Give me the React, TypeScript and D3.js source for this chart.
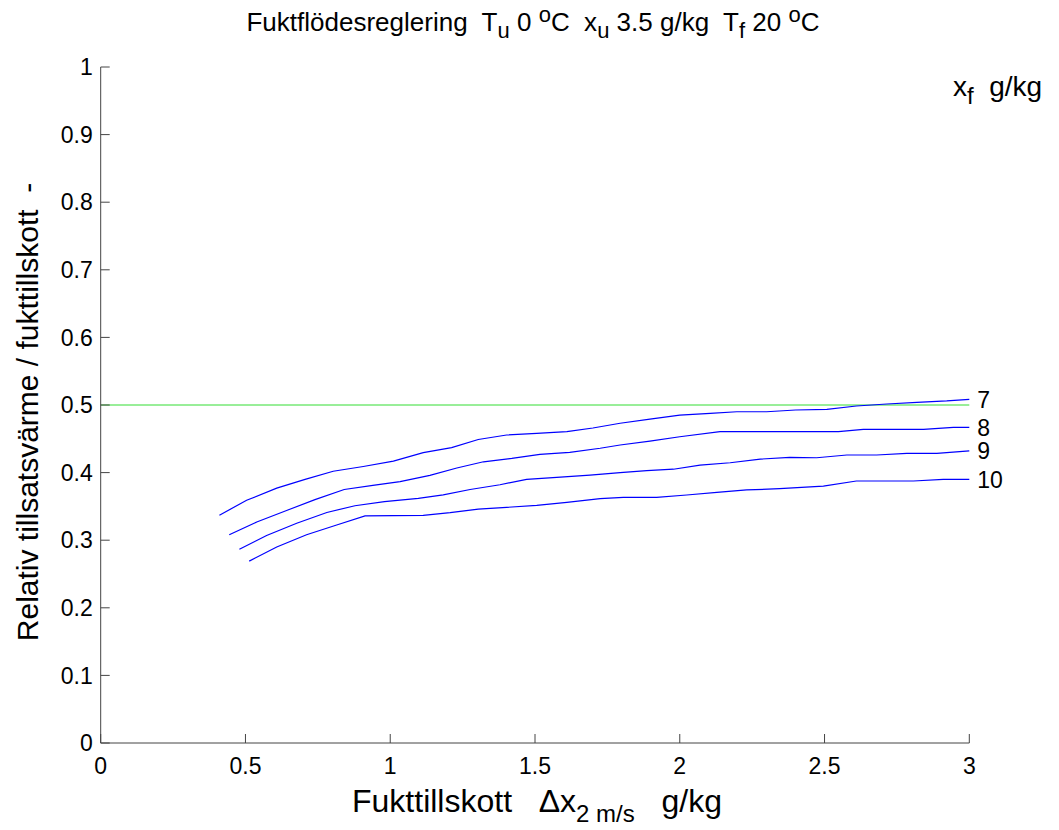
import React from 'react';
import * as d3 from 'd3';

// Curve labels (x_f g/kg)
const curveLabels = ['7', '8', '9', '10'];

// x_f = 7
const dx7 = [0.41, 0.504, 0.608, 0.706, 0.803, 0.907, 1.011, 1.114, 1.212, 1.304, 1.402, 1.506, 1.61, 1.70, 1.794, 1.897, 2.0, 2.105, 2.197, 2.30, 2.40, 2.508, 2.61, 2.715, 2.819, 2.922, 3.0];
const rel7 = [0.337, 0.359, 0.377, 0.390, 0.402, 0.409, 0.417, 0.4295, 0.437, 0.449, 0.4556, 0.458, 0.4605, 0.466, 0.473, 0.479, 0.485, 0.4877, 0.490, 0.490, 0.4926, 0.4936, 0.4985, 0.5015, 0.504, 0.506, 0.5084];

// x_f = 8
const dx8 = [0.444, 0.539, 0.642, 0.74, 0.841, 0.94, 1.034, 1.137, 1.23, 1.322, 1.42, 1.517, 1.62, 1.725, 1.794, 1.897, 2.0, 2.139, 2.35, 2.548, 2.634, 2.842, 2.945, 3.0];
const rel8 = [0.308, 0.327, 0.344, 0.360, 0.375, 0.381, 0.3866, 0.396, 0.4068, 0.416, 0.421, 0.427, 0.430, 0.436, 0.4408, 0.4467, 0.453, 0.4605, 0.4605, 0.4605, 0.464, 0.464, 0.467, 0.467];

// x_f = 9
const dx9 = [0.479, 0.573, 0.677, 0.781, 0.878, 0.98, 1.097, 1.183, 1.276, 1.379, 1.471, 1.575, 1.69, 1.794, 1.886, 1.978, 2.07, 2.174, 2.278, 2.38, 2.473, 2.577, 2.68, 2.784, 2.888, 3.0];
const rel9 = [0.2865, 0.307, 0.325, 0.341, 0.351, 0.357, 0.362, 0.367, 0.375, 0.382, 0.390, 0.393, 0.3964, 0.400, 0.4028, 0.405, 0.411, 0.4146, 0.420, 0.4226, 0.422, 0.426, 0.426, 0.4285, 0.4285, 0.432];

// x_f = 10
const dx10 = [0.513, 0.608, 0.711, 0.815, 0.913, 1.114, 1.207, 1.304, 1.402, 1.506, 1.61, 1.725, 1.805, 1.92, 2.024, 2.128, 2.231, 2.345, 2.496, 2.61, 2.807, 2.91, 3.0];
const rel10 = [0.269, 0.290, 0.308, 0.3225, 0.336, 0.3368, 0.3407, 0.346, 0.3486, 0.3516, 0.356, 0.3614, 0.3634, 0.3634, 0.3669, 0.3708, 0.3743, 0.3762, 0.380, 0.3876, 0.3876, 0.390, 0.390];

const refLevel = 0.5;
const xTicks = [0, 0.5, 1, 1.5, 2, 2.5, 3];
const yTicks = [0, 0.1, 0.2, 0.3, 0.4, 0.5, 0.6, 0.7, 0.8, 0.9, 1];

const FONT = '"Liberation Sans", Arial, Helvetica, sans-serif';

export default function App() {
  const W = 1059, H = 830;
  const x = d3.scaleLinear().domain([0, 3]).range([100.7, 969.3]);
  const y = d3.scaleLinear().domain([0, 1]).range([743, 67]);
  const line = d3.line<[number, number]>().x(d => x(d[0])).y(d => y(d[1]));
  const series = [
    { xs: dx7, ys: rel7 },
    { xs: dx8, ys: rel8 },
    { xs: dx9, ys: rel9 },
    { xs: dx10, ys: rel10 },
  ];
  const fmt = (v: number) => (v === 0 ? '0' : v === 1 ? '1' : d3.format('.1f')(v).replace(/\.0$/, ''));
  const tickLen = 9;
  return (
    <svg width={W} height={H} style={{ position: 'absolute', left: 0, top: 0, background: '#fff' }} fontFamily={FONT}>
      <rect x={0} y={0} width={W} height={H} fill="#fff" />
      {/* reference line */}
      <line x1={x(0)} x2={x(3)} y1={y(refLevel)} y2={y(refLevel)} stroke="#33dd33" strokeWidth={1} />
      {/* curves */}
      {series.map((s, i) => (
        <path key={i} d={line(s.xs.map((v, j) => [v, s.ys[j]] as [number, number])) || ''} fill="none" stroke="#0000ff" strokeWidth={1.2} />
      ))}
      {series.map((s, i) => (
        <text key={'l' + i} x={x(s.xs[s.xs.length - 1]) + 8} y={y(s.ys[s.ys.length - 1])} dy="0.36em" fontSize={23} fill="#000">
          {curveLabels[i]}
        </text>
      ))}
      {/* axes */}
      <line x1={x(0)} x2={x(0)} y1={y(0)} y2={y(1)} stroke="#444" strokeWidth={1} />
      <line x1={x(0)} x2={x(3)} y1={y(0)} y2={y(0)} stroke="#444" strokeWidth={1} />
      {yTicks.map(t => (
        <g key={'y' + t}>
          <line x1={x(0)} x2={x(0) + tickLen} y1={y(t)} y2={y(t)} stroke="#444" />
          <text x={x(0) - 8} y={y(t)} dy="0.36em" textAnchor="end" fontSize={23} fill="#000">{fmt(t)}</text>
        </g>
      ))}
      {xTicks.map(t => (
        <g key={'x' + t}>
          <line x1={x(t)} x2={x(t)} y1={y(0)} y2={y(0) - tickLen} stroke="#444" />
          <text x={x(t)} y={y(0) + 31} textAnchor="middle" fontSize={23} fill="#000">{fmt(t)}</text>
        </g>
      ))}
      {/* title */}
      <text x={533} y={31} textAnchor="middle" fontSize={26} fill="#000" style={{ whiteSpace: 'pre' }}>
        <tspan>{'Fuktflödesreglering  T'}</tspan>
        <tspan fontSize={22} dy={7}>u</tspan>
        <tspan dy={-7}>{' 0 '}</tspan>
        <tspan fontSize={22} dy={-9}>o</tspan>
        <tspan dy={9}>{'C  x'}</tspan>
        <tspan fontSize={22} dy={7}>u</tspan>
        <tspan dy={-7}>{' 3.5 g/kg  T'}</tspan>
        <tspan fontSize={22} dy={7}>f</tspan>
        <tspan dy={-7}>{' 20 '}</tspan>
        <tspan fontSize={22} dy={-9}>o</tspan>
        <tspan dy={9}>C</tspan>
      </text>
      {/* legend header */}
      <text x={953} y={96} fontSize={28} fill="#000" style={{ whiteSpace: 'pre' }}>
        <tspan>x</tspan>
        <tspan fontSize={24} dy={8}>f</tspan>
        <tspan dy={-8}>{'  g/kg'}</tspan>
      </text>
      {/* axis labels */}
      <text transform={`translate(38, 412) rotate(-90)`} textAnchor="middle" fontSize={30} fill="#000" style={{ whiteSpace: 'pre' }}>
        {'Relativ tillsatsvärme / fukttillskott  -'}
      </text>
      <text x={352} y={812} textAnchor="start" fontSize={32} fill="#000" style={{ whiteSpace: 'pre' }}>
        <tspan>{'Fukttillskott   Δx'}</tspan>
        <tspan fontSize={24} dy={10}>{'2 m/s'}</tspan>
        <tspan dy={-10}>{'   g/kg'}</tspan>
      </text>
    </svg>
  );
}
